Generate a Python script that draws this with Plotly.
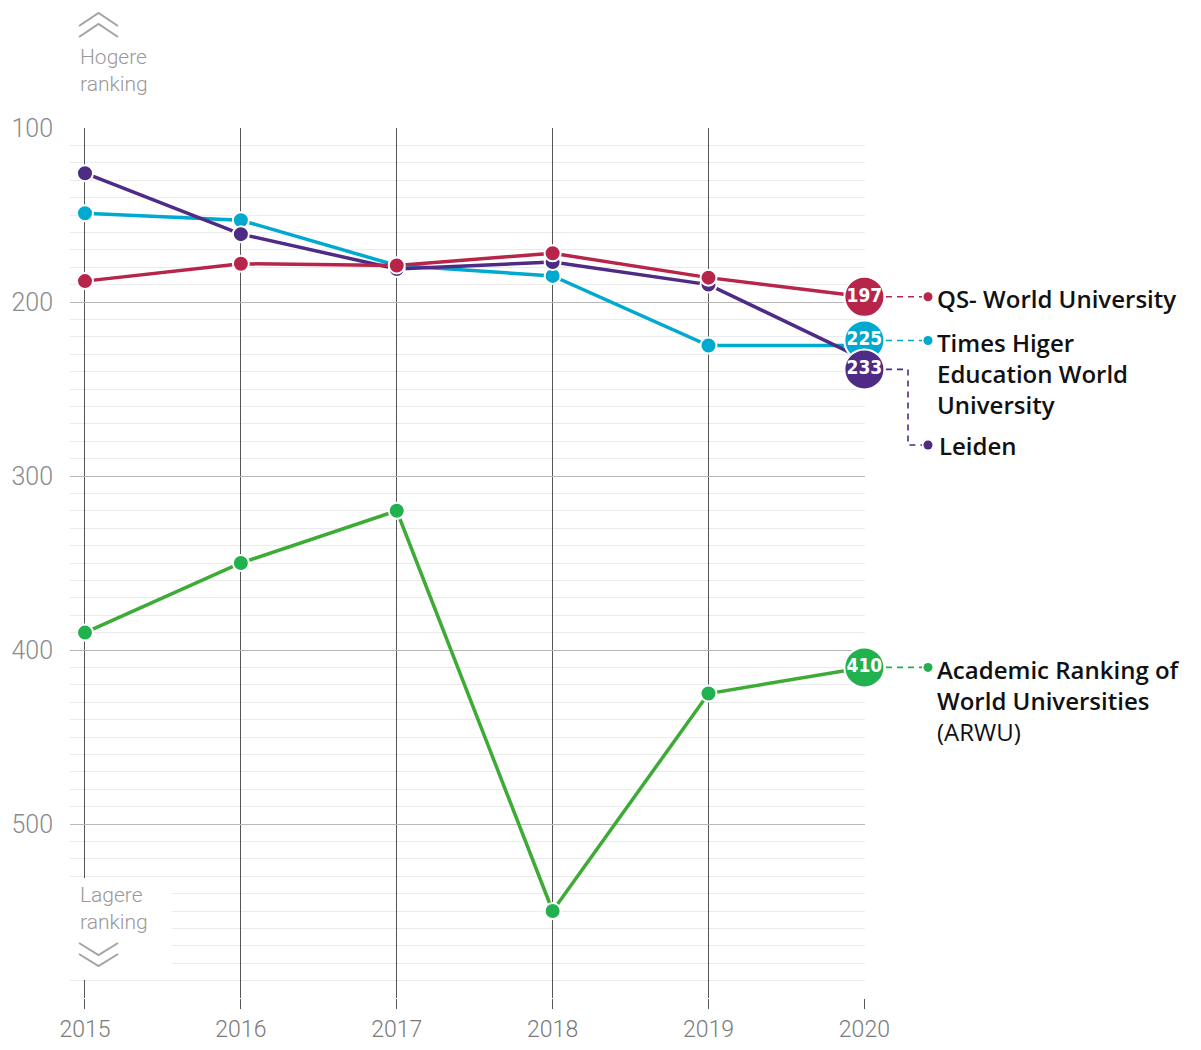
import plotly.graph_objects as go

years = [2015, 2016, 2017, 2018, 2019, 2020]
qs = [188, 178, 179, 172, 186, 197]
times = [149, 153, 179, 185, 225, 225]
leiden = [126, 161, 181, 177, 190, 233]
arwu = [390, 350, 320, 550, 425, 410]

y_ticks = [100, 200, 300, 400, 500, 600]
y_ticktext = ["100", "200", "300", "400", "500", ""]

C_QS = "#b7254b"
C_TIMES = "#00a9cf"
C_LEIDEN = "#4e2b84"
C_ARWU_LINE = "#3dab36"
C_ARWU_MARK = "#21b14e"

# page offset (body margin) and plot area in screen pixels
OFF = 8
W, H = 1201 - 2 * OFF, 1050 - 2 * OFF
L, R, T, B = 70, 865, 128, 998
Y0, Y1 = 600, 100


def px(x):
    return (x - L) / (R - L)


def py(y):
    return (B - y) / (B - T)


def val2pix(v):
    return T + (v - Y1) / (Y0 - Y1) * (B - T)


fig = go.Figure()

series = [
    ("ARWU", arwu, C_ARWU_LINE, C_ARWU_MARK),
    ("Times", times, C_TIMES, C_TIMES),
    ("Leiden", leiden, C_LEIDEN, C_LEIDEN),
    ("QS", qs, C_QS, C_QS),
]
for name, vals, lc, mc in series:
    fig.add_trace(go.Scatter(
        x=years, y=vals, mode="lines+markers", name=name,
        line=dict(color=lc, width=3.5),
        marker=dict(size=16, color=mc, line=dict(color="white", width=2)),
        cliponaxis=False, showlegend=False, hoverinfo="skip"))

# end-value bubbles (pixel nudges to keep them apart)
nudge_px = {"QS": 0, "Times": -5, "Leiden": 10, "ARWU": 0}
bubbles = [("QS", qs, C_QS), ("Times", times, C_TIMES),
           ("Leiden", leiden, C_LEIDEN), ("ARWU", arwu, C_ARWU_MARK)]
bubble_pix = {}
for name, vals, c in bubbles:
    v = vals[-1]
    yp = val2pix(v) + nudge_px[name]
    bubble_pix[name] = yp
    yv = Y1 + (yp - T) / (B - T) * (Y0 - Y1)
    fig.add_trace(go.Scatter(
        x=[years[-1]], y=[yv], mode="markers+text", text=[str(v)],
        textposition="middle center",
        textfont=dict(color="white", size=19, family="DejaVu Sans Condensed", weight="bold"),
        marker=dict(size=40, color=c, line=dict(color="white", width=2)),
        cliponaxis=False, showlegend=False, hoverinfo="skip"))

shapes = []
annotations = []


def dot(xc, yc, color, r=4.5):
    shapes.append(dict(type="circle", xref="paper", yref="paper",
                       x0=px(xc - r), x1=px(xc + r), y0=py(yc + r), y1=py(yc - r),
                       fillcolor=color, line=dict(width=0), layer="above"))


def dash_path(pts, color):
    d = "M " + " L ".join(f"{px(x):.5f},{py(y):.5f}" for x, y in pts)
    shapes.append(dict(type="path", xref="paper", yref="paper", path=d,
                       line=dict(color=color, width=1.6, dash="6px,5px"), layer="above"))


LABEL_FONT = "Open Sans"
LABEL_SIZE = 24


def label(x, y, text, weight=600, color="#111111", size=LABEL_SIZE, family=LABEL_FONT):
    """y = pixel centre of the first line; multi-line text via <br>."""
    lh = size * 1.3
    annotations.append(dict(xref="paper", yref="paper", x=px(x), y=py(y - lh / 2 - 1),
                            xanchor="left", yanchor="top", align="left", showarrow=False,
                            text=text, font=dict(family=family, size=size, color=color, weight=weight)))


# QS
y = bubble_pix["QS"]
dash_path([(886, y), (922, y)], C_QS)
dot(928, y, C_QS)
label(935, y, "QS- World University")
# Times
y = bubble_pix["Times"]
dash_path([(886, y), (922, y)], C_TIMES)
dot(928, y, C_TIMES)
label(935, y, "Times Higer<br>Education World<br>University")
# Leiden
y = bubble_pix["Leiden"]
dash_path([(886, y), (908, y), (908, 445), (922, 445)], C_LEIDEN)
dot(928, 445, C_LEIDEN)
label(937, 444, "Leiden")
# ARWU
y = bubble_pix["ARWU"]
dash_path([(886, y), (922, y)], C_ARWU_MARK)
dot(928, y, C_ARWU_MARK)
label(935, y, "Academic Ranking of<br>World Universities<br><span style='font-weight:400'>(ARWU)</span>")

# Higher / lower ranking hints
GREY = "#a3a3a3"
for yy in [26, 37]:
    dpath = f"M {px(79):.5f},{py(yy):.5f} L {px(98.5):.5f},{py(yy-13):.5f} L {px(118):.5f},{py(yy):.5f}"
    shapes.append(dict(type="path", xref="paper", yref="paper", path=dpath,
                       line=dict(color=GREY, width=2), layer="above"))

# white box behind lower hint
shapes.append(dict(type="rect", xref="paper", yref="paper",
                   x0=px(0), x1=px(172), y0=py(980), y1=py(878),
                   fillcolor="white", line=dict(width=0), layer="above"))
for yy in [943, 954]:
    dpath = f"M {px(79):.5f},{py(yy):.5f} L {px(98.5):.5f},{py(yy+12):.5f} L {px(118):.5f},{py(yy):.5f}"
    shapes.append(dict(type="path", xref="paper", yref="paper", path=dpath,
                       line=dict(color=GREY, width=2), layer="above"))

label(78, 58, "Hogere<br>ranking", weight=300, color="#999999", size=21, family="Roboto")
label(78, 896, "Lagere<br>ranking", weight=300, color="#999999", size=21, family="Roboto")

fig.update_layout(
    width=W, height=H,
    margin=dict(l=L - OFF, r=W - (R - OFF), t=T - OFF, b=H - (B - OFF), autoexpand=False),
    plot_bgcolor="white", paper_bgcolor="white",
    shapes=shapes, annotations=annotations,
    font=dict(family="Roboto"),
    xaxis=dict(
        range=[2015 - (85 - L) / ((R - 85) / 5), 2020.004],
        tickvals=years, ticktext=[str(y) for y in years],
        showgrid=True, gridcolor="#555555", gridwidth=1,
        ticks="outside", ticklen=10, tickcolor="#555555", tickwidth=1,
        ticklabelstandoff=0, automargin=False,
        tickfont=dict(size=23, color="#7a7a7a", family="Roboto", weight=300),
        zeroline=False, showline=False, fixedrange=True,
    ),
    yaxis=dict(
        range=[Y0, Y1], tickvals=y_ticks, ticktext=y_ticktext,
        showgrid=True, gridcolor="#b8b8b8", gridwidth=1,
        minor=dict(dtick=10, showgrid=True, gridcolor="#ebebeb", gridwidth=1),
        ticks="", ticklabelstandoff=16, automargin=False,
        tickfont=dict(size=25, color="#8a8a8a", family="Roboto", weight=300),
        zeroline=False, showline=False, fixedrange=True,
    ),
)

fig.write_html("out.html")
